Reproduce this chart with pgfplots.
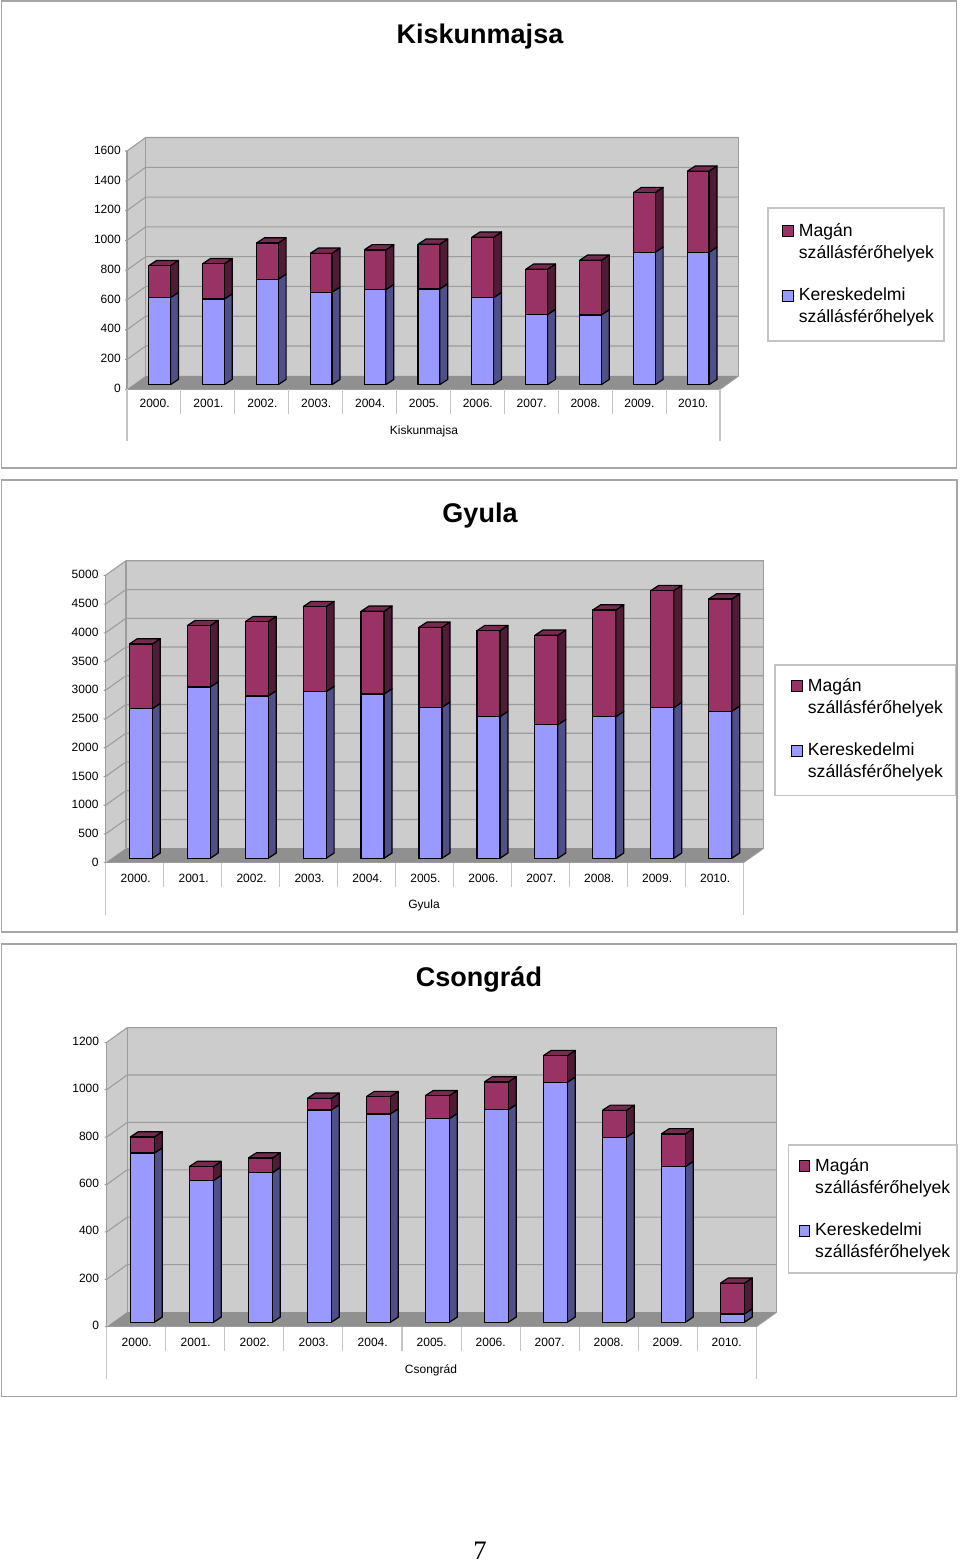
\documentclass[border=0pt]{standalone}
\usepackage{pgfplots}
\pgfplotsset{compat=1.18}
\usepackage{pgfplotstable}
\usepackage{fontspec}
\setmainfont{Liberation Sans}
\newfontfamily\seriffont{Liberation Serif}
\definecolor{wallc}{HTML}{CCCCCC}
\definecolor{floorc}{HTML}{909090}
\definecolor{gridc}{HTML}{9C9C9C}
\definecolor{framec}{HTML}{A6A6A6}
\definecolor{lightl}{HTML}{C4C4C4}
\definecolor{blue1}{HTML}{9999FF}
\definecolor{blue2}{HTML}{505088}
\definecolor{mag1}{HTML}{993366}
\definecolor{mag2}{HTML}{4F1B36}
\definecolor{mag3}{HTML}{752A50}
\newcommand\lgtxt[2]{\parbox[t]{102pt}{\fontsize{13.2}{16.5}\selectfont #1\\#2}}
\pgfplotstableread{
x a b
0 585 215
1 576 237
2 708 244
3 621 262
4 639 267
5 643 301
6 585 406
7 471 305
8 469 367
9 890 401
10 890 545
}\tblA
\pgfplotstableread{
x a b
0 2603 1125
1 2980 1067
2 2824 1292
3 2899 1479
4 2859 1438
5 2627 1391
6 2464 1496
7 2325 1554
8 2464 1856
9 2620 2036
10 2557 1954
}\tblB
\pgfplotstableread{
x a b
0 714 68
1 598 59
2 631 62
3 896 49
4 879 73
5 859 97
6 897 117
7 1013 112
8 781 113
9 657 138
10 35 130
}\tblC
% frame, walls, floor, gridlines, legend box (pixel units)
\newcommand\chartwalls{%
\begin{scope}[x=0.75pt,y=-0.75pt]
\draw[framec,line width=1pt] (\frL,\frT) rectangle (\frR,\frB);
\fill[wallc] (\fl,\fb) -- (\fl+\wdx,\fb-\wdy) -- (\fl+\wdx,\ft-\wdy) -- (\fl,\ft) -- cycle;
\fill[wallc] (\fl+\wdx,\fb-\wdy) rectangle (\fr+\wdx,\ft-\wdy);
\fill[floorc] (\fl,\fb) -- (\fr,\fb) -- (\fr+\wdx,\fb-\wdy) -- (\fl+\wdx,\fb-\wdy) -- cycle;
\foreach \i in {1,...,\ns}{
  \pgfmathsetmacro\yy{\fb+(\ft-\fb)*\i/\ns}
  \draw[gridc,line width=0.8pt] (\fl-2,\yy) -- (\fl,\yy) -- (\fl+\wdx,\yy-\wdy) -- (\fr+\wdx,\yy-\wdy);
}
\draw[gridc,line width=0.9pt] (\fl,\ft) -- (\fl,\fb) (\fl+\wdx,\ft-\wdy) -- (\fl+\wdx,\fb-\wdy);
\draw[gridc,line width=0.9pt] (\fr+\wdx,\fb-\wdy) -- (\fr+\wdx,\ft-\wdy) -- (\fl+\wdx,\ft-\wdy);
\draw[gridc,line width=0.8pt] (\fr,\fb) -- (\fr+\wdx,\fb-\wdy);
\draw[gridc,line width=0.8pt] (\fl-2,\fb) -- (\fr,\fb);
\foreach \i in {0,...,11}{
  \pgfmathsetmacro\xx{\fl+(\fr-\fl)*\i/11}
  \draw[lightl,line width=0.8pt] (\xx,\fb) -- (\xx,\fb+24.5);
}
\draw[lightl,line width=0.8pt] (\fl,\fb) -- (\fl,\fb+52) (\fr,\fb) -- (\fr,\fb+52);
\draw[lightl,fill=white,line width=0.8pt] (\lgL,\lgT) rectangle (\lgR,\lgB);
\end{scope}}
\newcommand\chartaxes[1]{%
\pgfmathsetmacro\axW{\cw*11*0.75}
\pgfmathsetmacro\axH{\pxH*0.75}
\pgfmathsetmacro\axLpt{(\cx-\cw/2)*0.75}
\pgfmathsetmacro\axBpt{-\axB*0.75}
\pgfmathsetmacro\barw{\bwpx*0.75}
\pgfmathsetmacro\hw{\bwpx/2/\cw}
\pgfmathsetmacro\sdx{8/\cw}
\pgfmathsetmacro\sdy{5.3/\pxH*\ymaxv}
\pgfmathsetmacro\axLpx{\cx-\cw/2}
\pgfmathsetmacro\tfx{(\tiX-\axLpx)/(\cw*11)}
\pgfmathsetmacro\tfy{(\axB-\tiY)/\pxH}
\pgfmathsetmacro\xfx{(\xlX-\axLpx)/(\cw*11)}
\pgfmathsetmacro\xfy{(\axB-\xlY)/\pxH}
\pgfmathsetmacro\lfx{(\swL-\axLpx)/(\cw*11)}
\pgfmathsetmacro\lfy{(\axB-\txT)/\pxH}
\pgfmathsetmacro\ylx{(\ylR-\axLpx)*0.75}
\pgfmathsetmacro\yly{(\axB-\ylC)*0.75}
\pgfmathsetmacro\xtx{\xtC*0.75}
\pgfmathsetmacro\xty{(\axB-\xtY)*0.75}
\begin{axis}[at={(\axLpt pt,\axBpt pt)},anchor=south west,scale only axis,
  width=\axW pt,height=\axH pt,xmin=-0.5,xmax=10.5,ymin=0,ymax=\ymaxv,hide axis,clip=false]
\pgfplotsinvokeforeach{0,...,10}{
  \pgfplotstablegetelem{##1}{a}\of{#1}\let\va\pgfplotsretval
  \pgfplotstablegetelem{##1}{b}\of{#1}\let\vb\pgfplotsretval
  \pgfmathsetmacro\xa{##1+\hw}
  \pgfmathsetmacro\xb{##1+\hw+\sdx}
  \pgfmathsetmacro\xc{##1-\hw}
  \pgfmathsetmacro\xd{##1-\hw+\sdx}
  \pgfmathsetmacro\ya{\va+\sdy}
  \pgfmathsetmacro\yt{\va+\vb}
  \pgfmathsetmacro\yu{\va+\vb+\sdy}
  \edef\temp{\noexpand\addplot[fill=blue2,draw=black,line width=0.9pt,line join=round] coordinates {(\xa,0) (\xb,\sdy) (\xb,\ya) (\xa,\va) (\xa,0)};
  \noexpand\addplot[fill=mag2,draw=black,line width=0.9pt,line join=round] coordinates {(\xa,\va) (\xb,\ya) (\xb,\yu) (\xa,\yt) (\xa,\va)};
  \noexpand\addplot[fill=mag3,draw=black,line width=0.9pt,line join=round] coordinates {(\xc,\yt) (\xd,\yu) (\xb,\yu) (\xa,\yt) (\xc,\yt)};}
  \temp
}
\end{axis}
\begin{axis}[at={(\axLpt pt,\axBpt pt)},anchor=south west,scale only axis,
  width=\axW pt,height=\axH pt,xmin=-0.5,xmax=10.5,ymin=0,ymax=\ymaxv,clip=false,
  ybar stacked,bar width=\barw pt,
  axis line style={draw=none},tick style={draw=none},major tick length=0pt,
  xtick={0,...,10},
  xticklabels={2000.,2001.,2002.,2003.,2004.,2005.,2006.,2007.,2008.,2009.,2010.},
  ytick distance=\ystep,scaled y ticks=false,
  /pgf/number format/.cd,assume math mode=true,1000 sep={},/pgfplots/.cd,
  tick label style={font=\fontsize{9}{11}\selectfont},
  xticklabel style={anchor=center,inner sep=0pt,xshift=\xtx pt,yshift=\xty pt},
  yticklabel style={anchor=east,inner sep=0pt,xshift=\ylx pt,yshift=\yly pt},
  title={\chtitle},
  title style={at={(axis description cs:\tfx,\tfy)},anchor=center,inner sep=0pt,yshift=-7.9pt,font=\fontsize{20.25}{24}\selectfont\bfseries},
  xlabel={\chtitle},
  xlabel style={at={(axis description cs:\xfx,\xfy)},anchor=center,inner sep=0pt,yshift=-1.1pt,font=\fontsize{9}{11}\selectfont},
  reverse legend,legend cell align=left,
  legend style={at={(axis description cs:\lfx,\lfy)},anchor=north west,draw=none,fill=none,inner sep=0pt,
    nodes={inner sep=0pt},row sep=37.5pt,/tikz/column 1/.style={column sep=3.7pt}},
]
\addplot[fill=blue1,draw=black,line width=0.9pt,
  legend image code/.code={\draw[fill=blue1,draw=black,line width=0.8pt] (0pt,-4.25pt) rectangle (8pt,3.75pt);}]
  table[x=x,y=a] {#1};
\addplot[fill=mag1,draw=black,line width=0.9pt,
  legend image code/.code={\draw[fill=mag1,draw=black,line width=0.8pt] (0pt,-4.25pt) rectangle (8pt,3.75pt);}]
  table[x=x,y=b] {#1};
\addlegendentry{\lgtxt{Kereskedelmi}{szállásférőhelyek}}
\addlegendentry{\lgtxt{Magán}{szállásférőhelyek}}
\end{axis}}
\begin{document}
\begin{tikzpicture}
\useasboundingbox (0pt,0pt) rectangle (720pt,-1172.25pt);
% ---------- Kiskunmajsa
\def\frL{1.5}\def\frT{1}\def\frR{956.5}\def\frB{468}
\def\fl{127}\def\fb{389.3}\def\ft{151}\def\fr{720}\def\wdx{18.7}\def\wdy{13.5}\def\ns{8}
\def\lgL{768}\def\lgT{208}\def\lgR{944}\def\lgB{341}
\chartwalls
\def\cx{159.55}\def\cw{53.86}\def\axB{384.7}\def\pxH{238}\def\ymaxv{1600}\def\ystep{200}\def\bwpx{21.7}
\def\chtitle{Kiskunmajsa}\def\tiX{480}\def\tiY{34}\def\xlX{424}\def\xlY{430}
\def\swL{782}\def\txT{223}\def\ylR{121}\def\ylC{388.2}\def\xtC{-4.9}\def\xtY{403}
\chartaxes{\tblA}
% ---------- Gyula
\def\frL{1.5}\def\frT{480}\def\frR{957}\def\frB{932}
\def\fl{105.5}\def\fb{862.7}\def\ft{575.3}\def\fr{743.3}\def\wdx{20.4}\def\wdy{14.5}\def\ns{10}
\def\lgL{775}\def\lgT{665}\def\lgR{955.3}\def\lgB{795.3}
\chartwalls
\def\cx{140.8}\def\cw{57.94}\def\axB{858.3}\def\pxH{287.4}\def\ymaxv{5000}\def\ystep{500}\def\bwpx{23}
\def\chtitle{Gyula}\def\tiX{480}\def\tiY{513}\def\xlX{424}\def\xlY{904}
\def\swL{791}\def\txT{678}\def\ylR{98.7}\def\ylC{862.2}\def\xtC{-5.1}\def\xtY{878}
\chartaxes{\tblB}
% ---------- Csongrad
\def\frL{1.5}\def\frT{944}\def\frR{956.5}\def\frB{1396.7}
\def\fl{106.7}\def\fb{1326.7}\def\ft{1042.3}\def\fr{756.3}\def\wdx{20.5}\def\wdy{14.7}\def\ns{6}
\def\lgL{788.3}\def\lgT{1145}\def\lgR{957}\def\lgB{1273}
\chartwalls
\def\cx{142.3}\def\cw{59}\def\axB{1322.3}\def\pxH{284.4}\def\ymaxv{1200}\def\ystep{200}\def\bwpx{24}
\def\chtitle{Csongrád}\def\tiX{479}\def\tiY{977}\def\xlX{431}\def\xlY{1369}
\def\swL{798.3}\def\txT{1158}\def\ylR{99.3}\def\ylC{1325.6}\def\xtC{-5.6}\def\xtY{1342}
\chartaxes{\tblC}
\node[font=\seriffont\fontsize{20}{24}\selectfont,inner sep=0pt] at (360pt,-1163pt) {7};
\end{tikzpicture}
\end{document}
